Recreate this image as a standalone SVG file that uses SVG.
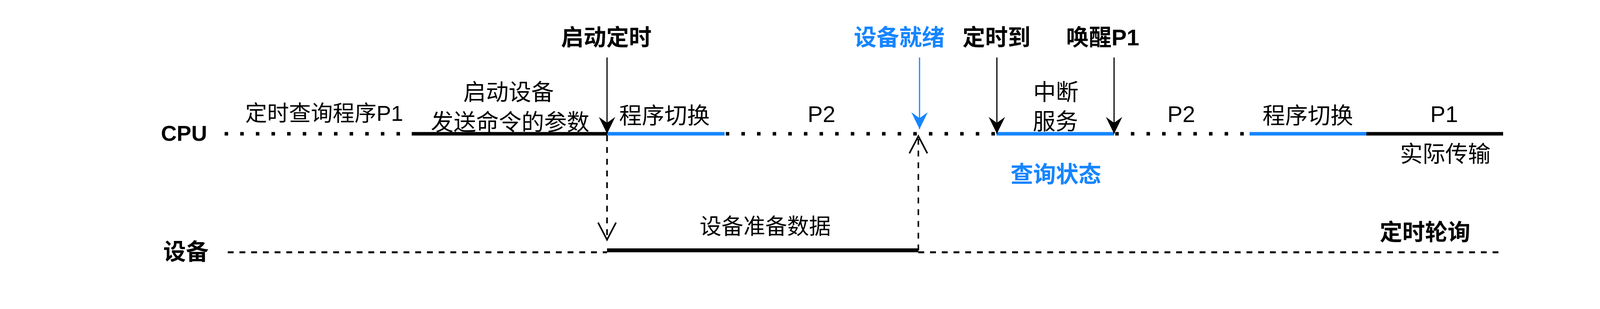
<svg xmlns="http://www.w3.org/2000/svg" width="4139" height="790" viewBox="0 0 4139 790">
<style>
text{font-family:"Liberation Sans","Noto Sans CJK SC",sans-serif;fill:#000;text-anchor:middle}
.b{font-weight:bold}
.blue{fill:#1685FF}
.t58{font-size:58px}
.t56{font-size:56px}
.dot{stroke:#000;stroke-width:9;stroke-dasharray:9 31;fill:none}
.dash{stroke:#000;stroke-width:5;stroke-dasharray:15 15;fill:none}
.seg{stroke-width:9;fill:none}
.k{stroke:#000}
.bl{stroke:#1685FF}
.arr{stroke-width:3;fill:none}
.varr{stroke:#000;stroke-width:4;stroke-dasharray:15 15;fill:none}
</style>
<defs>
<marker id="ahK" viewBox="-44 -23 46 46" refX="0" refY="0" markerWidth="46" markerHeight="46" markerUnits="userSpaceOnUse" orient="auto">
<path d="M0,0 L-43,-21 L-28,0 L-43,21 Z" fill="#000"/>
</marker>
<marker id="ahB" viewBox="-44 -23 46 46" refX="0" refY="0" markerWidth="46" markerHeight="46" markerUnits="userSpaceOnUse" orient="auto">
<path d="M0,0 L-43,-21 L-28,0 L-43,21 Z" fill="#1685FF"/>
</marker>
<marker id="ahV" viewBox="-48 -28 52 56" refX="0" refY="0" markerWidth="52" markerHeight="56" markerUnits="userSpaceOnUse" orient="auto">
<path d="M-44,-23 L0,0 L-44,23" fill="none" stroke="#000" stroke-width="4" stroke-dasharray="none"/>
</marker>
</defs>

<g id="lane-cpu">
<text class="b t56" x="471" y="360">CPU</text>
</g>
<g id="lane-device">
<text class="b t58" x="476" y="664">设备</text>
</g>

<g id="timeline-cpu">
<line class="dot" x1="575" y1="342" x2="1054" y2="342"/>
<line class="seg k" x1="1054" y1="342" x2="1554" y2="342"/>
<line class="seg bl" x1="1554" y1="342" x2="1855" y2="342"/>
<line class="dot" x1="1858" y1="342" x2="2551" y2="342"/>
<line class="seg bl" x1="2551" y1="342" x2="2852" y2="342"/>
<line class="dot" x1="2855" y1="342" x2="3192" y2="342"/>
<line class="seg bl" x1="3199" y1="342" x2="3498" y2="342"/>
<line class="seg k" x1="3498" y1="342" x2="3848" y2="342"/>
</g>

<g id="timeline-device">
<line class="dash" x1="583" y1="645" x2="1554" y2="645"/>
<line class="k" stroke-width="10" x1="1554" y1="640" x2="2351" y2="640"/>
<line class="dash" x1="2351" y1="645" x2="3837" y2="645"/>
</g>

<g id="connectors">
<line class="arr k" x1="1554" y1="147" x2="1554" y2="342" marker-end="url(#ahK)"/>
<line class="arr bl" x1="2354" y1="147" x2="2354" y2="330" marker-end="url(#ahB)"/>
<line class="arr k" x1="2552" y1="147" x2="2552" y2="342" marker-end="url(#ahK)"/>
<line class="arr k" x1="2852" y1="147" x2="2852" y2="342" marker-end="url(#ahK)"/>
<line class="varr" x1="1554" y1="346" x2="1554" y2="613" marker-end="url(#ahV)"/>
<line class="varr" x1="2351" y1="640" x2="2351" y2="348" marker-end="url(#ahV)"/>
</g>

<g id="event-start-timer"><text class="b t58" x="1552" y="116">启动定时</text></g>
<g id="event-device-ready"><text class="b t58 blue" x="2302" y="116">设备就绪</text></g>
<g id="event-timer-up"><text class="b t58" x="2551" y="116">定时到</text></g>
<g id="event-wake-p1"><text class="b t58" x="2823" y="116">唤醒P1</text></g>

<g id="seg-poll-p1"><text class="t56" x="830" y="309">定时查询程序P1</text></g>
<g id="seg-start-device">
<text class="t58" x="1302" y="256">启动设备</text>
<text class="t58" x="1306" y="333">发送命令的参数</text>
</g>
<g id="seg-switch-1"><text class="t58" x="1701" y="316">程序切换</text></g>
<g id="seg-p2-1"><text class="t58" x="2103" y="312">P2</text></g>
<g id="seg-isr">
<text class="t58" x="2703" y="256">中断</text>
<text class="t58" x="2702" y="331">服务</text>
</g>
<g id="note-query"><text class="b t58 blue" x="2703" y="466">查询状态</text></g>
<g id="seg-p2-2"><text class="t58" x="3024" y="312">P2</text></g>
<g id="seg-switch-2"><text class="t58" x="3348" y="316">程序切换</text></g>
<g id="seg-p1"><text class="t58" x="3697" y="312">P1</text></g>
<g id="note-transfer"><text class="t58" x="3700" y="414">实际传输</text></g>
<g id="seg-device-prep"><text class="t56" x="1959" y="598">设备准备数据</text></g>
<g id="title-polling"><text class="b t58" x="3648" y="614">定时轮询</text></g>
</svg>
